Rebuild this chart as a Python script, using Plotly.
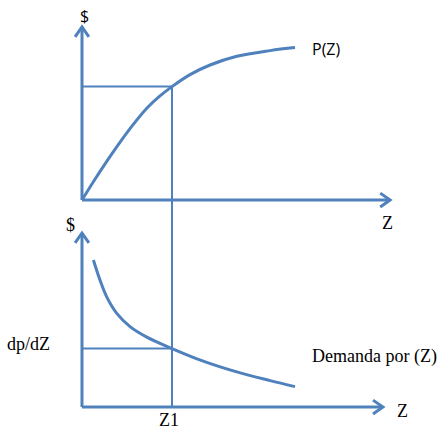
import plotly.graph_objects as go

# Diagram data (Z units, $ units)
z_p = [0, 0.38, 0.82, 1.27, 1.71, 2.16, 2.6, 3.0, 3.6, 4.27, 5.16, 6.27, 7.1]
p_vals = [0, 0.61, 1.28, 1.93, 2.52, 3.06, 3.47, 3.78, 4.18, 4.5, 4.79, 4.98, 5.08]

z_d = [0.38, 0.6, 0.82, 1.16, 1.6, 2.16, 3.0, 4.04, 5.16, 6.27, 7.1]
d_vals = [4.9, 4.23, 3.68, 3.12, 2.68, 2.33, 1.95, 1.53, 1.17, 0.88, 0.68]

z1 = 3.0
p_z1 = 3.78
d_z1 = 1.95

# axis lengths
top_x_len, top_y_len = 10.27, 5.77
bot_x_len, bot_y_len = 10.03, 5.8
offset = 6.9  # vertical shift of the upper panel

blue = "#4F81BD"
serif = "Liberation Serif"
sans = "Open Sans"

fig = go.Figure()


def seg(xs, ys, w, shape="linear"):
    fig.add_trace(go.Scatter(x=xs, y=ys, mode="lines",
                             line=dict(color=blue, width=w, shape=shape),
                             hoverinfo="skip", showlegend=False))


def axes(y0, xlen, ylen):
    seg([0, xlen], [y0, y0], 3)
    seg([0, 0], [y0, y0 + ylen], 3)
    # open chevron arrowheads
    seg([xlen - 0.33, xlen, xlen - 0.33], [y0 + 0.23, y0, y0 - 0.23], 3)
    seg([-0.23, 0, 0.23], [y0 + ylen - 0.33, y0 + ylen, y0 + ylen - 0.33], 3)


axes(offset, top_x_len, top_y_len)
axes(0, bot_x_len, bot_y_len)

# guide lines
seg([0, z1], [p_z1 + offset, p_z1 + offset], 2)
seg([z1, z1], [0, p_z1 + offset], 2)
seg([0, z1], [d_z1, d_z1], 2)

# curves
seg(z_p, [v + offset for v in p_vals], 3, "spline")
seg(z_d, d_vals, 3, "spline")

labels = [
    ("$", 0.1, 13.03, sans, 16, "center"),
    ("P(Z)", 7.6, 11.93, sans, 16, "left"),
    ("Z", 10.17, 6.13, serif, 18, "center"),
    ("$", -0.37, 6.07, serif, 18, "center"),
    ("dp/dZ", -1.77, 2.1, serif, 18, "center"),
    ("Demanda por (Z)", 7.6, 1.67, serif, 18, "left"),
    ("Z1", 2.9, -0.42, serif, 18, "center"),
    ("Z", 10.67, -0.13, serif, 18, "center"),
]
for txt, x, y, fam, size, anchor in labels:
    fig.add_annotation(x=x, y=y, text=txt, showarrow=False, xanchor=anchor,
                       yanchor="middle", font=dict(family=fam, size=size, color="black"))

fig.update_layout(
    width=443, height=429,
    margin=dict(l=0, r=0, t=0, b=0),
    plot_bgcolor="white", paper_bgcolor="white",
    xaxis=dict(range=[-2.733, 12.033], visible=False),
    yaxis=dict(range=[-0.733, 13.567], visible=False),
)

# drop the default page margin so the figure fills the window
fig.write_html("out.html", config={"displayModeBar": False},
               post_script="document.body.style.margin='0';")
